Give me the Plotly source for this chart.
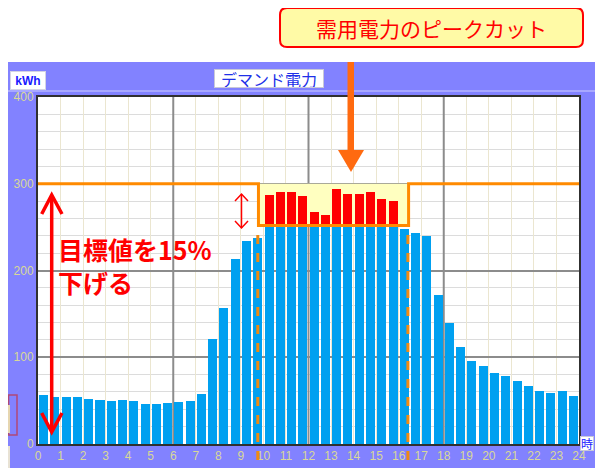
import plotly.graph_objects as go

# ---------------- data ----------------
slot_start = [i / 2 for i in range(48)]          # half-hour slots 0:00 ... 23:30
demand = [56, 54, 54, 54, 52, 51, 50, 51, 50, 46, 46, 47, 48, 49, 58, 121,
          157, 213, 234, 238, 287, 290, 291, 286, 268, 264, 294, 288, 288, 290, 283, 280,
          248, 243, 240, 172, 139, 112, 96, 90, 82, 78, 73, 67, 61, 59, 61, 55]
target = 300          # kWh, original demand target
cap = 252             # kWh, lowered target (peak cut)
window_start = 9.78   # hour
window_end = 16.44    # hour
x_ticks = list(range(0, 25))
y_ticks = [0, 100, 200, 300, 400]

blue_vals = [min(v, cap) for v in demand]
red_vals = [max(v - cap, 0) for v in demand]

# ---------------- pixel helpers (screen pixels; page has an 8px body margin) ----------------
OFF = 8
FW, FH = 603 - OFF, 468 - OFF
L, R, T, B = 38, 579, 97, 444          # plot area in screen pixels
W, H = R - L, B - T
def PX(x): return (x - L) / W
def PY(y): return (B - y) / H

PURPLE = "#8282ff"
BLUE = "#00a0f0"
ORANGE = "#ff8a00"
JP = "Noto Sans CJK JP"

fig = go.Figure()
fig.add_trace(go.Bar(x=slot_start, y=blue_vals, offset=0.05, width=0.4,
                     marker=dict(color=BLUE, line=dict(width=0)), hoverinfo="skip"))
fig.add_trace(go.Bar(x=slot_start, y=red_vals, offset=0.05, width=0.4,
                     marker=dict(color="#ff0000", line=dict(width=0)), hoverinfo="skip"))
fig.add_trace(go.Scatter(
    x=[0, window_start, window_start, window_end, window_end, 24],
    y=[target, target, cap, cap, target, target],
    mode="lines", line=dict(color=ORANGE, width=3), hoverinfo="skip"))

shapes = []
# white area above the purple panel
shapes.append(dict(type="rect", xref="paper", yref="paper", x0=PX(0), x1=PX(610),
                   y0=PY(62), y1=PY(0), fillcolor="white", line=dict(width=0), layer="below"))
# light line across the purple header
shapes.append(dict(type="line", xref="paper", yref="paper", x0=PX(8), x1=PX(603),
                   y0=PY(91), y1=PY(91), line=dict(color="#b4b4ff", width=1.5)))
# bottom-left fragments
shapes.append(dict(type="rect", xref="paper", yref="paper", x0=PX(8.5), x1=PX(17),
                   y0=PY(435), y1=PY(395), line=dict(color="#b04878", width=1.5)))
shapes.append(dict(type="rect", xref="paper", yref="paper", x0=PX(8), x1=PX(10),
                   y0=PY(433), y1=PY(405), fillcolor="#e6d6b0", line=dict(width=0)))
shapes.append(dict(type="rect", xref="paper", yref="paper", x0=PX(8), x1=PX(10),
                   y0=PY(468), y1=PY(446), fillcolor="#e8e2d4", line=dict(width=0)))
# major vertical grid lines
for xv in (6, 12, 18):
    shapes.append(dict(type="line", xref="x", yref="y", x0=xv, x1=xv, y0=0, y1=400,
                       line=dict(color="#8c8c8c", width=2), layer="between"))
# yellow peak-cut zone
shapes.append(dict(type="rect", xref="x", yref="y", x0=window_start, x1=window_end,
                   y0=cap, y1=target, fillcolor="#ffffc0", line=dict(width=0), layer="between"))
# dashed window lines
for xv in (window_start - 0.03, window_end - 0.03):
    shapes.append(dict(type="line", xref="paper", yref="paper", x0=xv / 24, x1=xv / 24,
                       y0=PY(235), y1=PY(465), line=dict(color="#f08a10", width=3, dash="dash")))
# orange arrow from the title
shapes.append(dict(type="rect", xref="paper", yref="paper", x0=PX(347.5), x1=PX(354),
                   y0=PY(153), y1=PY(62), fillcolor="#ff6a10", line=dict(width=0)))
shapes.append(dict(type="path", xref="paper", yref="paper",
                   path=f"M{PX(338)},{PY(150)} L{PX(364)},{PY(150)} L{PX(351)},{PY(172)} Z",
                   fillcolor="#ff6a10", line=dict(width=0)))
# big red double arrow
shapes.append(dict(type="line", xref="paper", yref="paper", x0=PX(51.7), x1=PX(51.7),
                   y0=PY(196), y1=PY(431), line=dict(color="#ff0000", width=3.5)))
shapes.append(dict(type="path", xref="paper", yref="paper",
                   path=f"M{PX(41.7)},{PY(214)} L{PX(51.7)},{PY(195)} L{PX(62)},{PY(214)}",
                   line=dict(color="#ff0000", width=3.5)))
shapes.append(dict(type="path", xref="paper", yref="paper",
                   path=f"M{PX(41.7)},{PY(413)} L{PX(51.7)},{PY(432)} L{PX(62)},{PY(413)}",
                   line=dict(color="#ff0000", width=3.5)))
# small red double arrow
shapes.append(dict(type="line", xref="paper", yref="paper", x0=PX(241.5), x1=PX(241.5),
                   y0=PY(194), y1=PY(228), line=dict(color="#ff0000", width=1.5)))
shapes.append(dict(type="path", xref="paper", yref="paper",
                   path=f"M{PX(235)},{PY(201)} L{PX(241.5)},{PY(194)} L{PX(248)},{PY(201)}",
                   line=dict(color="#ff0000", width=1.5)))
shapes.append(dict(type="path", xref="paper", yref="paper",
                   path=f"M{PX(235)},{PY(221)} L{PX(241.5)},{PY(228)} L{PX(248)},{PY(221)}",
                   line=dict(color="#ff0000", width=1.5)))
# title rounded box
x0b, x1b, y0b, y1b, r = 280, 583, 8, 47, 7
p = (f"M{PX(x0b + r)},{PY(y0b)} L{PX(x1b - r)},{PY(y0b)} Q{PX(x1b)},{PY(y0b)} {PX(x1b)},{PY(y0b + r)} "
     f"L{PX(x1b)},{PY(y1b - r)} Q{PX(x1b)},{PY(y1b)} {PX(x1b - r)},{PY(y1b)} "
     f"L{PX(x0b + r)},{PY(y1b)} Q{PX(x0b)},{PY(y1b)} {PX(x0b)},{PY(y1b - r)} "
     f"L{PX(x0b)},{PY(y0b + r)} Q{PX(x0b)},{PY(y0b)} {PX(x0b + r)},{PY(y0b)} Z")
shapes.append(dict(type="path", xref="paper", yref="paper", path=p,
                   fillcolor="#fffaa6", line=dict(color="#ff0000", width=2)))

annotations = [
    dict(text="需用電力のピークカット", xref="paper", yref="paper", x=PX(431.5), y=PY(28),
         xanchor="center", yanchor="middle", showarrow=False,
         font=dict(family=JP, size=21, color="#ff0000")),
    dict(text="<b>kWh</b>", xref="paper", yref="paper", x=PX(27.5), y=PY(80.5),
         xanchor="center", yanchor="middle", showarrow=False, width=34, height=17,
         bgcolor="white", bordercolor="#d4d4e4", borderwidth=1, borderpad=0,
         font=dict(family="Liberation Sans", size=12, color="#1a1aff")),
    dict(text="デマンド電力", xref="paper", yref="paper", x=PX(269), y=PY(78.5),
         xanchor="center", yanchor="middle", showarrow=False, width=108, height=17,
         bgcolor="white", bordercolor="#c8c8d8", borderwidth=1, borderpad=0,
         font=dict(family=JP, size=16, color="#2030e8")),
    dict(text="時", xref="paper", yref="paper", x=PX(587), y=PY(443.5),
         xanchor="center", yanchor="middle", showarrow=False, width=12, height=13,
         bgcolor="white", bordercolor="#c8c8d8", borderwidth=1, borderpad=0,
         font=dict(family=JP, size=12, color="#1a1aff")),
    dict(text="<b>目標値を15%</b>", xref="paper", yref="paper", x=PX(56), y=PY(248.5),
         xanchor="left", yanchor="middle", showarrow=False,
         font=dict(family=JP, size=25, color="#ff0000")),
    dict(text="<b>下げる</b>", xref="paper", yref="paper", x=PX(56), y=PY(281.5),
         xanchor="left", yanchor="middle", showarrow=False,
         font=dict(family=JP, size=25, color="#ff0000")),
]

tickfont = dict(family="Liberation Sans", size=12, color="#d8d898")
fig.update_layout(
    width=FW, height=FH,
    margin=dict(l=L - OFF, r=603 - R, t=T - OFF, b=468 - B, autoexpand=False),
    paper_bgcolor=PURPLE, plot_bgcolor="white", barmode="stack", showlegend=False,
    bargap=0, shapes=shapes, annotations=annotations,
    xaxis=dict(range=[0, 24], tickvals=x_ticks, ticktext=[str(v) for v in x_ticks],
               showgrid=True, gridcolor="#ebe6d0", gridwidth=1, zeroline=False,
               showline=True, mirror=True, linecolor="#303030", linewidth=2,
               ticks="", tickfont=tickfont, fixedrange=True),
    yaxis=dict(range=[0, 400], tickvals=y_ticks, ticktext=[str(v) for v in y_ticks],
               showgrid=True, gridcolor="#8c8c8c", gridwidth=2, zeroline=False,
               minor=dict(dtick=20, tick0=0, showgrid=True, gridcolor="#dcdcdc", gridwidth=1),
               showline=True, mirror=True, linecolor="#303030", linewidth=2,
               ticks="", tickfont=tickfont, fixedrange=True),
)
fig.write_html("out.html")
